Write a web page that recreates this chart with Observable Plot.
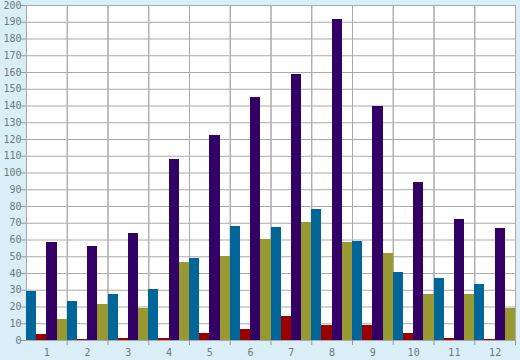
<!DOCTYPE html>
<html>
<head>
<meta charset="utf-8">
<script src="https://cdn.jsdelivr.net/npm/d3@7"></script>
<script src="https://cdn.jsdelivr.net/npm/@observablehq/plot@0.6"></script>
<style>
  html, body { margin: 0; padding: 0; background: #d9eef6; }
  #chart svg { display: block; }
</style>
</head>
<body>
<div id="chart"></div>
<script>
const months = ["1","2","3","4","5","6","7","8","9","10","11","12"];
const seriesNames = ["A","B","C","D"];
const seriesColors = ["#006699","#990000","#330066","#999933"];
const seriesA = [29.2, 23.3, 27.5, 30.4, 49.0, 68.1, 67.5, 78.2, 59.1, 40.6, 37.0, 33.4];
const seriesB = [3.6, 0.6, 1.2, 1.2, 4.2, 6.6, 14.3, 9.0, 9.0, 4.2, 1.2, 0.6];
const seriesC = [58.5, 56.1, 63.9, 108.1, 122.4, 145.1, 158.8, 191.6, 139.7, 94.3, 72.2, 66.9];
const seriesD = [12.5, 21.5, 19.1, 46.6, 50.1, 60.3, 70.4, 58.5, 51.9, 27.5, 27.5, 19.1];
const yTicks = d3.range(0, 201, 10);

const allSeries = [seriesA, seriesB, seriesC, seriesD];
const data = [];
months.forEach((m, i) => {
  seriesNames.forEach((s, j) => data.push({month: m, series: s, value: allSeries[j][i]}));
});

const width = 520, height = 360;
const marginLeft = 26, marginRight = 5;
const bandHalf = (width - marginLeft - marginRight) / months.length / 2;

const chart = Plot.plot({
  width, height,
  marginTop: 5, marginRight, marginBottom: 20, marginLeft,
  style: {background: "#d9eef6", fontFamily: "'DejaVu Sans Mono', monospace", fontSize: "10px", color: "#6e7880"},
  fx: {domain: months, padding: 0, round: false, label: null},
  x: {domain: seriesNames, padding: 0, round: false, axis: null},
  y: {domain: [0, 200], label: null},
  color: {domain: seriesNames, range: seriesColors},
  marks: [
    Plot.frame({fill: "white", stroke: null}),
    Plot.gridY(yTicks, {stroke: "#aaaaaa", strokeOpacity: 1}),
    Plot.frame({stroke: "#aaaaaa", strokeOpacity: 1}),
    Plot.barY(data, {fx: "month", x: "series", y: "value", fill: "series", shapeRendering: "crispEdges"}),
    Plot.axisY(yTicks, {tickSize: 5, tickPadding: 0, stroke: "#999", fill: "#6e7880", label: null}),
    Plot.axisFx({anchor: "bottom", tickSize: 0, tickPadding: 8, fill: "#6e7880", label: null}),
    Plot.axisFx({anchor: "bottom", tickSize: 5, text: null, dx: bandHalf, stroke: "#999", label: null})
  ]
});
document.getElementById("chart").appendChild(chart);
</script>
</body>
</html>
